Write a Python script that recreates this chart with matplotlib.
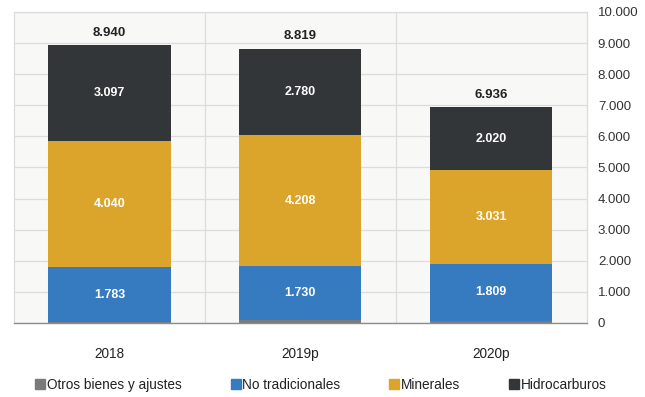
import matplotlib
matplotlib.use("Agg")
import matplotlib.pyplot as plt
from matplotlib.lines import Line2D
import numpy as np

plt.rcParams['font.family'] = ['Liberation Sans', 'DejaVu Sans']

years = ["2018", "2019p", "2020p"]
otros = [0.020, 0.101, 0.076]
no_tradicionales = [1.783, 1.730, 1.809]
minerales = [4.040, 4.208, 3.031]
hidrocarburos = [3.097, 2.780, 2.020]
totales = [8.940, 8.819, 6.936]

series = [
    ("Otros bienes y ajustes", otros, "#7a7a7a", False),
    ("No tradicionales", no_tradicionales, "#367bbf", True),
    ("Minerales", minerales, "#daa52a", True),
    ("Hidrocarburos", hidrocarburos, "#333639", True),
]

fig = plt.figure(figsize=(6.45, 3.97), dpi=100)
ax = fig.add_axes([0.0217, 0.1864, 0.888, 0.7836])
ax.set_facecolor("#f8f8f7")

x = np.arange(len(years))
bottom = np.zeros(len(years))
for name, vals, color, labelled in series:
    vals = np.array(vals)
    ax.bar(x, vals, 0.64, bottom=bottom, color=color, zorder=3)
    if labelled:
        for xi, b, v in zip(x, bottom, vals):
            ax.text(xi, b + v / 2, f"{v:.3f}", ha="center", va="center",
                    color="white", fontsize=9, fontweight="bold", zorder=4)
    bottom += vals

for xi, t in zip(x, totales):
    ax.text(xi, t + 0.2, f"{t:.3f}", ha="center", va="bottom",
            color="#222222", fontsize=9.5, fontweight="bold", zorder=4)

ax.set_xlim(-0.5, 2.5)
ax.set_ylim(0, 10)
ax.set_yticks(np.arange(0, 11, 1))
ax.set_yticklabels(["0"] + [f"{v}.000" for v in range(1, 11)])
ax.yaxis.tick_right()
ax.tick_params(axis="y", length=0, pad=8, labelsize=9.5, colors="#333333")
ax.set_xticks(x)
ax.set_xticklabels(years)
ax.tick_params(axis="x", length=0, pad=17, labelsize=9.8, colors="#222222")

ax.grid(axis="y", color="#dcdcdc", linewidth=0.9, zorder=0)
for b in [0.5, 1.5]:
    ax.axvline(b, color="#dcdcdc", linewidth=0.9, zorder=0)

for side in ["top", "left", "right"]:
    ax.spines[side].set_color("#dcdcdc")
    ax.spines[side].set_linewidth(0.9)
ax.spines["bottom"].set_color("#8c8c8c")
ax.spines["bottom"].set_linewidth(1.0)
ax.spines["bottom"].set_zorder(5)

handles = [Line2D([0], [0], marker="s", linestyle="none", markersize=7,
                  markerfacecolor=c, markeredgecolor=c) for _, _, c, _ in series]
labels = [n for n, _, _, _ in series]
fig.legend(handles, labels, loc="center", bbox_to_anchor=(0.497, 0.03), ncol=4,
           frameon=False, fontsize=9.8, handletextpad=0.05, columnspacing=3.5,
           handlelength=0.9, labelcolor="#222222")

fig.savefig("out.png", dpi=100, facecolor="white")
